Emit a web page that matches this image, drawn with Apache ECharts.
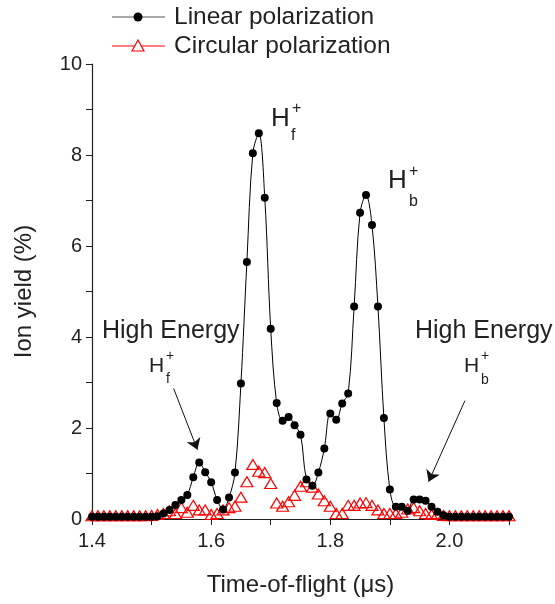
<!DOCTYPE html>
<html>
<head>
<meta charset="utf-8">
<script src="https://cdn.jsdelivr.net/npm/echarts@6/dist/echarts.min.js"></script>
<style>
  html, body { margin: 0; padding: 0; background: #fff; }
  #chart { width: 555px; height: 604px; }
</style>
</head>
<body>
<div id="chart"></div>
<script>
// time-of-flight (us)
const tof = [
  1.40, 1.41, 1.42, 1.43, 1.44, 1.45, 1.46, 1.47, 1.48, 1.49,
  1.50, 1.51, 1.52, 1.53, 1.54, 1.55, 1.56, 1.57, 1.58, 1.59,
  1.60, 1.61, 1.62, 1.63, 1.64, 1.65, 1.66, 1.67, 1.68, 1.69,
  1.70, 1.71, 1.72, 1.73, 1.74, 1.75, 1.76, 1.77, 1.78, 1.79,
  1.80, 1.81, 1.82, 1.83, 1.84, 1.85, 1.86, 1.87, 1.88, 1.89,
  1.90, 1.91, 1.92, 1.93, 1.94, 1.95, 1.96, 1.97, 1.98, 1.99,
  2.00, 2.01, 2.02, 2.03, 2.04, 2.05, 2.06, 2.07, 2.08, 2.09, 2.10
]

// ion yield (%) - linear polarization
const linear = [
  0.05, 0.05, 0.05, 0.05, 0.05, 0.05, 0.05, 0.05, 0.05, 0.05,
  0.05, 0.06, 0.12, 0.20, 0.31, 0.42, 0.53, 0.92, 1.24, 1.03,
  0.81, 0.42, 0.21, 0.47, 1.02, 2.98, 5.65, 8.04, 8.48, 7.06,
  4.18, 2.55, 2.16, 2.24, 2.06, 1.85, 0.87, 0.73, 1.02, 1.55,
  2.32, 2.18, 2.54, 2.76, 4.67, 6.73, 7.12, 6.46, 4.67, 2.22,
  0.65, 0.27, 0.27, 0.18, 0.43, 0.43, 0.40, 0.27, 0.16, 0.08,
  0.05, 0.05, 0.05, 0.05, 0.05, 0.05, 0.05, 0.05, 0.05, 0.05, 0.05
]

// ion yield (%) - circular polarization
const circular = [
  0.07, 0.07, 0.07, 0.07, 0.07, 0.07, 0.07, 0.07, 0.07, 0.07,
  0.08, 0.10, 0.12, 0.18, 0.12, 0.25, 0.15, 0.30, 0.20, 0.20,
  0.10, 0.12, 0.20, 0.25, 0.28, 0.48, 0.82, 1.20, 1.05, 1.02,
  0.78, 0.35, 0.28, 0.38, 0.52, 0.72, 0.82, 0.70, 0.55, 0.40,
  0.28, 0.12, 0.12, 0.30, 0.30, 0.35, 0.36, 0.30, 0.20, 0.12,
  0.12, 0.12, 0.15, 0.22, 0.25, 0.18, 0.12, 0.10, 0.12, 0.08,
  0.07, 0.07, 0.07, 0.07, 0.07, 0.07, 0.07, 0.07, 0.07, 0.07, 0.07
]

const seriesNames = ['Linear polarization', 'Circular polarization']

// arrow annotations in data coords [start, end]
const arrows = [
  [[1.537, 2.87], [1.577, 1.52]],
  [[2.026, 2.60], [1.965, 0.82]]
]

const FONT = "'Liberation Sans', Arial, Helvetica, sans-serif"

const linePts = tof.map((t, i) => [t, linear[i]])
const circPts = tof.map((t, i) => [t, circular[i]])

function txt(text, x, y, size, align) {
  return {
    type: 'text', x: x, y: y, silent: true,
    style: {
      text: text, fill: '#222', font: size + 'px ' + FONT,
      align: align || 'left', verticalAlign: 'middle'
    }
  }
}

const option = {
  animation: false,
  backgroundColor: '#fff',
  grid: { left: 92, right: 46, top: 64, bottom: 85 },
  xAxis: {
    type: 'value',
    min: 1.4, max: 2.1, interval: 0.1,
    name: 'Time-of-flight (\u03bcs)',
    nameLocation: 'middle',
    nameGap: 54,
    nameTextStyle: { fontSize: 24, color: '#222', fontFamily: FONT },
    axisLine: { lineStyle: { color: '#222', width: 1.2 } },
    axisTick: { show: true, length: 6, lineStyle: { color: '#222' } },
    axisLabel: {
      fontSize: 20, color: '#222', fontFamily: FONT, margin: 12,
      showMaxLabel: true,
      formatter(v) {
        const k = Math.round(v * 10)
        return (k % 2 === 0 && k <= 20) ? (k / 10).toFixed(1) : ''
      }
    },
    splitLine: { show: false }
  },
  yAxis: {
    type: 'value',
    min: 0, max: 10, interval: 1,
    name: 'Ion yield (%)',
    nameLocation: 'middle',
    nameGap: 56,
    nameTextStyle: { fontSize: 24, color: '#222', fontFamily: FONT },
    axisLine: { show: true, lineStyle: { color: '#222', width: 1.2 } },
    axisTick: { show: true, length: 6, lineStyle: { color: '#222' } },
    axisLabel: {
      fontSize: 20, color: '#222', fontFamily: FONT, margin: 10,
      formatter(v) { return v % 2 === 0 ? String(v) : '' }
    },
    splitLine: { show: false }
  },
  series: [
    {
      name: seriesNames[1],
      type: 'line',
      data: circPts,
      symbol: 'triangle',
      symbolSize: [12, 10],
      showAllSymbol: true,
      itemStyle: { color: 'rgba(255,255,255,0)', borderColor: '#ff0000', borderWidth: 1.2 },
      lineStyle: { width: 0, color: '#ff0000' },
      z: 2
    },
    {
      name: seriesNames[0],
      type: 'line',
      data: linePts,
      smooth: 0.35,
      symbol: 'circle',
      symbolSize: 8,
      showAllSymbol: true,
      itemStyle: { color: '#000' },
      lineStyle: { width: 1, color: '#000' },
      z: 3,
      markLine: {
        silent: true,
        animation: false,
        symbol: ['none', 'arrow'],
        symbolSize: 11,
        label: { show: false },
        lineStyle: { color: '#111', width: 1, type: 'solid' },
        data: arrows.map(a => [{ coord: a[0] }, { coord: a[1] }])
      }
    }
  ],
  graphic: [
    // legend
    { type: 'line', silent: true, shape: { x1: 112, y1: 17, x2: 165, y2: 17 }, style: { stroke: '#555', lineWidth: 1.2 } },
    { type: 'circle', silent: true, shape: { cx: 138, cy: 17, r: 4.5 }, style: { fill: '#000' } },
    txt(seriesNames[0], 174, 17, 24.5),
    { type: 'line', silent: true, shape: { x1: 112, y1: 46, x2: 165, y2: 46 }, style: { stroke: '#ff0000', lineWidth: 1.2 } },
    { type: 'polygon', silent: true, shape: { points: [[138, 40], [132, 51], [144, 51]] }, style: { fill: '#fff', stroke: '#ff0000', lineWidth: 1.2 } },
    txt(seriesNames[1], 174, 46, 24.5),
    // peak labels
    txt('H', 271, 119, 26),
    txt('+', 292, 109, 16),
    txt('f', 291, 136, 16),
    txt('H', 388, 181, 26),
    txt('+', 409, 172, 16),
    txt('b', 409, 202, 16),
    // high energy labels
    txt('High Energy', 102, 331, 25),
    txt('H', 149, 366, 21),
    txt('+', 166, 356, 14),
    txt('f', 166, 379, 14),
    txt('High Energy', 415, 331, 25),
    txt('H', 464, 366, 21),
    txt('+', 481, 356, 14),
    txt('b', 481, 380, 14)
  ]
}

const chart = echarts.init(document.getElementById('chart'))
chart.setOption(option)
</script>
</body>
</html>
